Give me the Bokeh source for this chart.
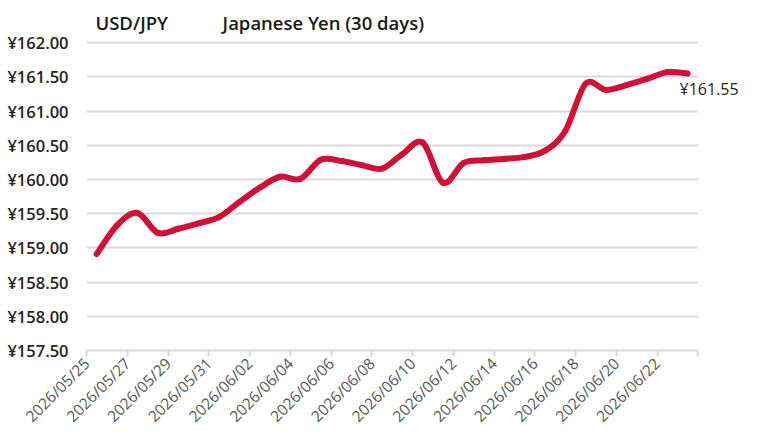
from bokeh.plotting import figure
from bokeh.models import FixedTicker, Label, ColumnDataSource, Grid
from bokeh.embed import file_html
from bokeh.resources import INLINE
import math

dates = ["2026/05/25", "2026/05/26", "2026/05/27", "2026/05/28", "2026/05/29",
         "2026/05/30", "2026/05/31", "2026/06/01", "2026/06/02", "2026/06/03",
         "2026/06/04", "2026/06/05", "2026/06/06", "2026/06/07", "2026/06/08",
         "2026/06/09", "2026/06/10", "2026/06/11", "2026/06/12", "2026/06/13",
         "2026/06/14", "2026/06/15", "2026/06/16", "2026/06/17", "2026/06/18",
         "2026/06/19", "2026/06/20", "2026/06/21", "2026/06/22", "2026/06/23"]
rates = [158.91, 159.33, 159.51, 159.22, 159.28,
         159.36, 159.45, 159.67, 159.88, 160.04,
         160.01, 160.29, 160.27, 160.21, 160.16,
         160.37, 160.54, 159.95, 160.24, 160.28,
         160.30, 160.33, 160.42, 160.71, 161.40,
         161.31, 161.38, 161.47, 161.57, 161.55]
y_ticks = [157.5, 158.0, 158.5, 159.0, 159.5, 160.0, 160.5, 161.0, 161.5, 162.0]
y_tick_labels = ["¥157.50", "¥158.00", "¥158.50", "¥159.00", "¥159.50",
                 "¥160.00", "¥160.50", "¥161.00", "¥161.50", "¥162.00"]
x_tick_labels = ["2026/05/25", "2026/05/27", "2026/05/29", "2026/05/31",
                 "2026/06/02", "2026/06/04", "2026/06/06", "2026/06/08",
                 "2026/06/10", "2026/06/12", "2026/06/14", "2026/06/16",
                 "2026/06/18", "2026/06/20", "2026/06/22", ""]
title_left = "USD/JPY"
title_right = "Japanese Yen (30 days)"

FONT = "Open Sans"
FONT_SEMI = "'Open Sans SemiBold', 'Open Sans Semibold', 'Open Sans'"
n = len(dates)
idx = list(range(n))
x_ticks = [i - 0.5 for i in range(0, n + 1, 2)]
x_lo, x_hi = -0.5, n - 0.5

# frame extends beyond the data area to leave room for the title and end label
p = figure(output_backend="svg", toolbar_location=None,
           x_range=(x_lo, x_hi + 2), y_range=(y_ticks[0], y_ticks[-1] + 0.5),
           frame_width=652, frame_height=342,
           min_border_left=86, min_border_right=8, min_border_top=8,
           min_border_bottom=89)
p.outline_line_color = None
p.background_fill_color = "white"
p.border_fill_color = "white"

# smoothed line: cubic Bezier segments through the data points (Catmull-Rom)
px = [idx[0]] + idx + [idx[-1]]
py = [rates[0]] + rates + [rates[-1]]
seg = dict(x0=[], y0=[], x1=[], y1=[], cx0=[], cy0=[], cx1=[], cy1=[])
for i in range(1, len(px) - 2):
    seg["x0"].append(px[i]); seg["y0"].append(py[i])
    seg["x1"].append(px[i + 1]); seg["y1"].append(py[i + 1])
    seg["cx0"].append(px[i] + (px[i + 1] - px[i - 1]) / 6)
    seg["cy0"].append(py[i] + (py[i + 1] - py[i - 1]) / 6)
    seg["cx1"].append(px[i + 1] - (px[i + 2] - px[i]) / 6)
    seg["cy1"].append(py[i + 1] - (py[i + 2] - py[i]) / 6)
p.bezier("x0", "y0", "x1", "y1", "cx0", "cy0", "cx1", "cy1",
         source=ColumnDataSource(seg), line_width=6, line_color="#d01036",
         line_cap="round", line_join="round")

# y axis
p.yaxis.ticker = FixedTicker(ticks=y_ticks)
p.yaxis.major_label_overrides = {t: l for t, l in zip(y_ticks, y_tick_labels)}
p.yaxis.axis_line_color = None
p.yaxis.major_tick_line_color = None
p.yaxis.minor_tick_line_color = None
p.yaxis.major_label_standoff = 12
p.yaxis.major_label_text_font = FONT_SEMI
p.yaxis.major_label_text_font_size = "16.5px"
p.yaxis.major_label_text_color = "#262626"

# x axis
p.xaxis.ticker = FixedTicker(ticks=x_ticks)
p.xaxis.bounds = (x_lo, x_hi)
p.xaxis.major_label_overrides = {t: l for t, l in zip(x_ticks, x_tick_labels)}
p.xaxis.major_label_orientation = math.pi / 4
p.xaxis.axis_line_color = "#d9d9d9"
p.xaxis.axis_line_width = 2
p.xaxis.major_tick_line_color = "#d9d9d9"
p.xaxis.major_tick_line_width = 2
p.xaxis.major_tick_in = 0
p.xaxis.major_tick_out = 6
p.xaxis.minor_tick_line_color = None
p.xaxis.major_label_text_font = FONT
p.xaxis.major_label_text_font_size = "15.5px"
p.xaxis.major_label_text_color = "#595959"
p.xaxis.major_label_standoff = 4

# grid
p.xgrid.grid_line_color = None
if "cross_bounds" in Grid.properties():
    p.ygrid.ticker = FixedTicker(ticks=y_ticks)
    p.ygrid.cross_bounds = (x_lo, x_hi)
    p.ygrid.grid_line_color = "#d9d9d9"
    p.ygrid.grid_line_width = 2
else:
    p.ygrid.grid_line_color = None
    p.segment(x0=[x_lo] * len(y_ticks), x1=[x_hi] * len(y_ticks),
              y0=y_ticks, y1=y_ticks, line_color="#d9d9d9", line_width=2,
              level="underlay")

# titles
p.add_layout(Label(x=-0.06, y=162.29, text=title_left, text_font=FONT_SEMI,
                   text_font_size="18.5px", text_color="#1a1a1a",
                   text_baseline="middle"))
p.add_layout(Label(x=6.18, y=162.29, text=title_right, text_font=FONT_SEMI,
                   text_font_size="18.5px", text_color="#1a1a1a",
                   text_baseline="middle"))

# end label
p.add_layout(Label(x=idx[-1], y=rates[-1], text=f"¥{rates[-1]:.2f}",
                   x_offset=-8, y_offset=-16, text_font=FONT,
                   text_font_size="16px", text_color="#262626",
                   text_baseline="middle"))

open("out.html", "w").write(file_html(p, INLINE))
